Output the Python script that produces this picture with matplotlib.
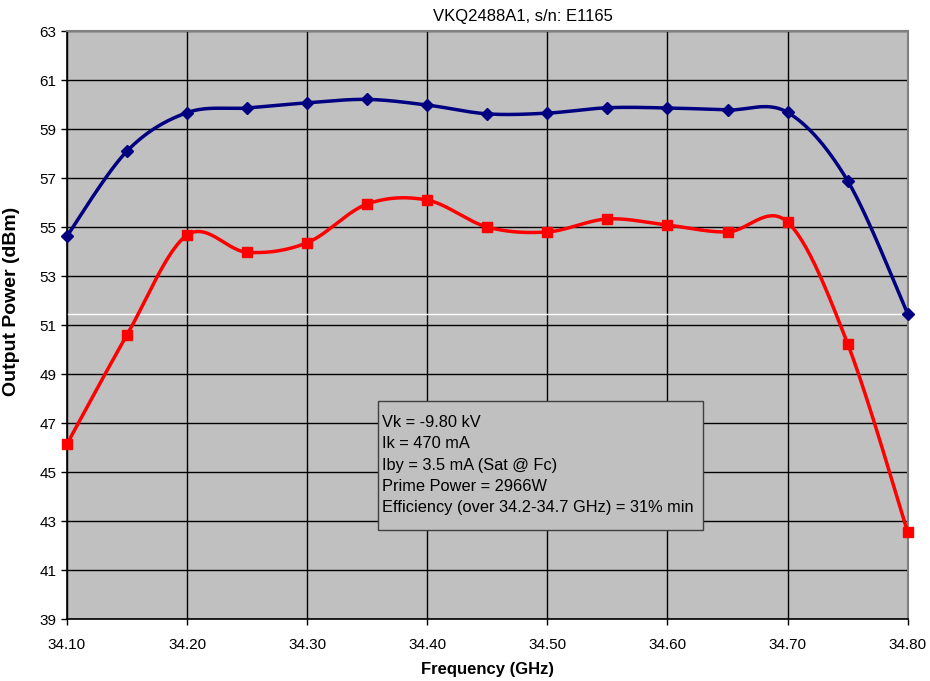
import numpy as np
import matplotlib.pyplot as plt
from matplotlib.patches import Rectangle

# measured data
freq = [34.10, 34.15, 34.20, 34.25, 34.30, 34.35, 34.40, 34.45,
        34.50, 34.55, 34.60, 34.65, 34.70, 34.75, 34.80]
blue_pwr = [54.63, 58.10, 59.67, 59.86, 60.07, 60.21, 59.98, 59.62,
            59.65, 59.87, 59.86, 59.78, 59.68, 56.89, 51.46]
red_pwr = [46.14, 50.60, 54.67, 53.97, 54.36, 55.94, 56.10, 55.00,
           54.80, 55.33, 55.08, 54.80, 55.20, 50.24, 42.55]

notes = ["Vk = -9.80 kV",
         "Ik = 470 mA",
         "Iby = 3.5 mA (Sat @ Fc)",
         "Prime Power = 2966W",
         "Efficiency (over 34.2-34.7 GHz) = 31% min"]

xticks = [34.10, 34.20, 34.30, 34.40, 34.50, 34.60, 34.70, 34.80]
yticks = list(range(39, 64, 2))


def smooth(x, y, n=30):
    # excel-like smoothed line (catmull-rom style bezier)
    x = np.asarray(x, float)
    y = np.asarray(y, float)
    px = np.concatenate([[x[0]], x, [x[-1]]])
    py = np.concatenate([[y[0]], y, [y[-1]]])
    xs, ys = [], []
    t = np.linspace(0, 1, n)
    for i in range(1, len(px) - 2):
        p0 = np.array([px[i], py[i]])
        p3 = np.array([px[i + 1], py[i + 1]])
        c1 = p0 + (p3 - np.array([px[i - 1], py[i - 1]])) / 6
        c2 = p3 - (np.array([px[i + 2], py[i + 2]]) - p0) / 6
        b = ((1 - t) ** 3)[:, None] * p0 + (3 * (1 - t) ** 2 * t)[:, None] * c1 \
            + (3 * (1 - t) * t ** 2)[:, None] * c2 + (t ** 3)[:, None] * p3
        xs.append(b[:, 0])
        ys.append(b[:, 1])
    return np.concatenate(xs), np.concatenate(ys)


plt.rcParams['font.family'] = ['Liberation Sans', 'DejaVu Sans']

fig = plt.figure(figsize=(9.3, 6.81), dpi=100)
ax = fig.add_axes([0.072, 0.091, 0.904, 0.8634])
ax.set_facecolor("#C0C0C0")

ax.set_xlim(34.10, 34.80)
ax.set_ylim(39, 63)
ax.set_xticks(xticks)
ax.set_xticklabels(["%.2f" % v for v in xticks], fontsize=11)
ax.set_yticks(yticks)
ax.set_yticklabels([str(v) for v in yticks], fontsize=11)
ax.grid(True, color="black", linewidth=1.0)
ax.set_axisbelow(True)
ax.tick_params(direction="out", length=4, width=1, color="black")
ax.tick_params(axis="x", pad=10)
for s in ax.spines.values():
    s.set_color("#808080")
    s.set_linewidth(1.5)
ax.spines["left"].set_color("black")
ax.spines["bottom"].set_color("black")
ax.spines["left"].set_linewidth(1.2)
ax.spines["bottom"].set_linewidth(1.2)

# thin white reference line at final blue level
ax.axhline(blue_pwr[-1], color="white", linewidth=1, zorder=2)

bx, by = smooth(freq, blue_pwr)
rx, ry = smooth(freq, red_pwr)
ax.plot(bx, by, color="#000080", linewidth=2.5, zorder=3, clip_on=False)
ax.plot(freq, blue_pwr, linestyle="none", marker="D", markersize=6,
        color="#000080", zorder=4, clip_on=False)
ax.plot(rx, ry, color="#FF0000", linewidth=2.5, zorder=3, clip_on=False)
ax.plot(freq, red_pwr, linestyle="none", marker="s", markersize=7,
        color="#FF0000", zorder=4, clip_on=False)

# annotation box
box = Rectangle((0.3696, 0.1514), 0.3866, 0.2193, transform=ax.transAxes,
                facecolor="#C0C0C0", edgecolor="#404040", linewidth=1, zorder=5)
ax.add_patch(box)
ax.text(0.3742, 0.347, "\n".join(notes), transform=ax.transAxes,
        fontsize=11.8, va="top", ha="left", linespacing=1.53, zorder=6)

fig.text(0.5624, 0.976, "VKQ2488A1, s/n: E1165", fontsize=12,
         ha="center", va="center")
ax.set_xlabel("Frequency (GHz)", fontsize=12, fontweight="bold")
ax.xaxis.set_label_coords(0.5, -0.073)
ax.set_ylabel("Output Power (dBm)", fontsize=14, fontweight="bold")
ax.yaxis.set_label_coords(-0.056, 0.54)

fig.savefig("out.png", dpi=100)
